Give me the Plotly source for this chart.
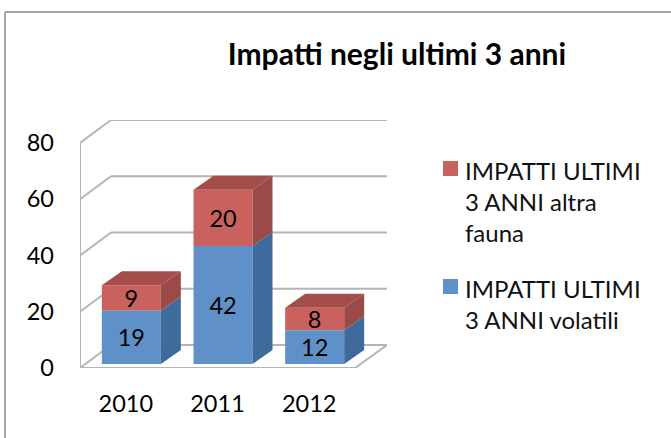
import plotly.graph_objects as go

categories = ["2010", "2011", "2012"]
volatili = [19, 42, 12]
altra_fauna = [9, 20, 8]
y_ticks = [0, 20, 40, 60, 80]
name_volatili = "IMPATTI ULTIMI<br>3 ANNI volatili"
name_fauna = "IMPATTI ULTIMI<br>3 ANNI altra<br>fauna"
title_text = "Impatti negli ultimi 3 anni"

FONT = "Lato"
W, H = 671, 438
L, R, T, B = 80, 387, 120, 368
PX_X = 91.67
PX_Y = 2.8125
X0 = -0.5
X1 = X0 + (R - L) / PX_X
Y1 = (B - T) / PX_Y
WALL_DX, WALL_DY = 31 / PX_X, 23 / PX_Y
BAR_DX, BAR_DY = 20 / PX_X, 14 / PX_Y
BAR_W = 59 / PX_X
SHIFT = 5.5 / PX_X
LIFT = 1.4
GRID = "#b5b5b5"
RED, BLUE = "#c9625e", "#5f90c7"
LABEL_SIZE = 23.5

xs = list(range(len(categories)))
fig = go.Figure()

base_v = [LIFT] * len(xs)
base_f = [LIFT + v for v in volatili]
for vals, base, col, nm in ((altra_fauna, base_f, RED, name_fauna), (volatili, base_v, BLUE, name_volatili)):
    fig.add_bar(x=[i + SHIFT for i in xs], y=vals, base=base, width=BAR_W, name=nm,
                marker=dict(color=col, line_width=0), text=vals, showlegend=False,
                textposition="inside", insidetextanchor="middle", textangle=0, constraintext="none",
                textfont=dict(color="black", size=LABEL_SIZE, family=FONT), cliponaxis=False)


def face(px, py, color):
    fig.add_scatter(x=px, y=py, fill="toself", fillcolor=color, mode="none",
                    showlegend=False, hoverinfo="skip")


for i, v, f in zip(xs, volatili, altra_fauna):
    x1 = i + SHIFT + BAR_W / 2
    x0 = i + SHIFT - BAR_W / 2
    face([x1, x1 + BAR_DX, x1 + BAR_DX, x1],
         [LIFT, LIFT + BAR_DY, LIFT + v + BAR_DY, LIFT + v], "#3f6a9c")
    face([x1, x1 + BAR_DX, x1 + BAR_DX, x1],
         [LIFT + v, LIFT + v + BAR_DY, LIFT + v + f + BAR_DY, LIFT + v + f], "#9c4a47")
    top = LIFT + v + f
    face([x0, x0 + BAR_DX, x1 + BAR_DX, x1], [top, top + BAR_DY, top + BAR_DY, top], "#a34e4b")

shapes = []


def seg(xa, ya, xb, yb):
    shapes.append(dict(type="line", layer="below", x0=xa, y0=ya, x1=xb, y1=yb,
                       line=dict(color=GRID, width=2)))


wall_x = X0 + WALL_DX
for t in y_ticks:
    seg(X0, t, wall_x, t + WALL_DY)
    seg(wall_x, t + WALL_DY, X1, t + WALL_DY)
seg(X0, 0, X0, y_ticks[-1])
seg(X0, 0, 2.5, 0)
seg(2.5, 0, X1, WALL_DY)


def px(x):
    return (x - L) / (R - L)


def py(y):
    return (B - y) / (B - T)


# chart frame: only the top and left edges show
for xa, ya, xb, yb in ((5, 438, 5, 12), (5, 12, 671, 12)):
    shapes.append(dict(type="line", layer="below", xref="paper", yref="paper",
                       x0=px(xa), y0=py(ya), x1=px(xb), y1=py(yb),
                       line=dict(color="#a6a6a6", width=2)))

# legend
annotations = []
for name, col, top in ((name_fauna, RED, 161), (name_volatili, BLUE, 279)):
    shapes.append(dict(type="rect", xref="paper", yref="paper", x0=px(443), x1=px(458),
                       y0=py(top + 15), y1=py(top), fillcolor=col, line_width=0))
    annotations.append(dict(xref="paper", yref="paper", x=px(464), y=py(top - 6), text=name,
                            xanchor="left", yanchor="top", align="left", showarrow=False,
                            borderpad=0, font=dict(family=FONT, size=24, color="#111111")))

fig.update_layout(
    width=W, height=H, margin=dict(l=L, r=W - R, t=T, b=H - B, pad=0),
    paper_bgcolor="white", plot_bgcolor="white", barmode="overlay", showlegend=False,
    font=dict(family=FONT, size=LABEL_SIZE, color="black"),
    title=dict(text="<b>" + title_text + "</b>", font=dict(family=FONT, size=30, color="black"),
               x=397 / W, xanchor="center", y=1 - 54 / H, yanchor="middle"),
    xaxis=dict(range=[X0, X1], tickvals=xs, ticktext=categories, showgrid=False, zeroline=False,
               showline=False, ticks="", ticklabelstandoff=19),
    yaxis=dict(range=[0, Y1], tickvals=y_ticks, showgrid=False, zeroline=False, showline=False,
               ticks="", ticklabelstandoff=25),
    shapes=shapes, annotations=annotations,
)
fig.write_html("out.html", post_script="document.body.style.margin='0';",
               config=dict(displayModeBar=False))
